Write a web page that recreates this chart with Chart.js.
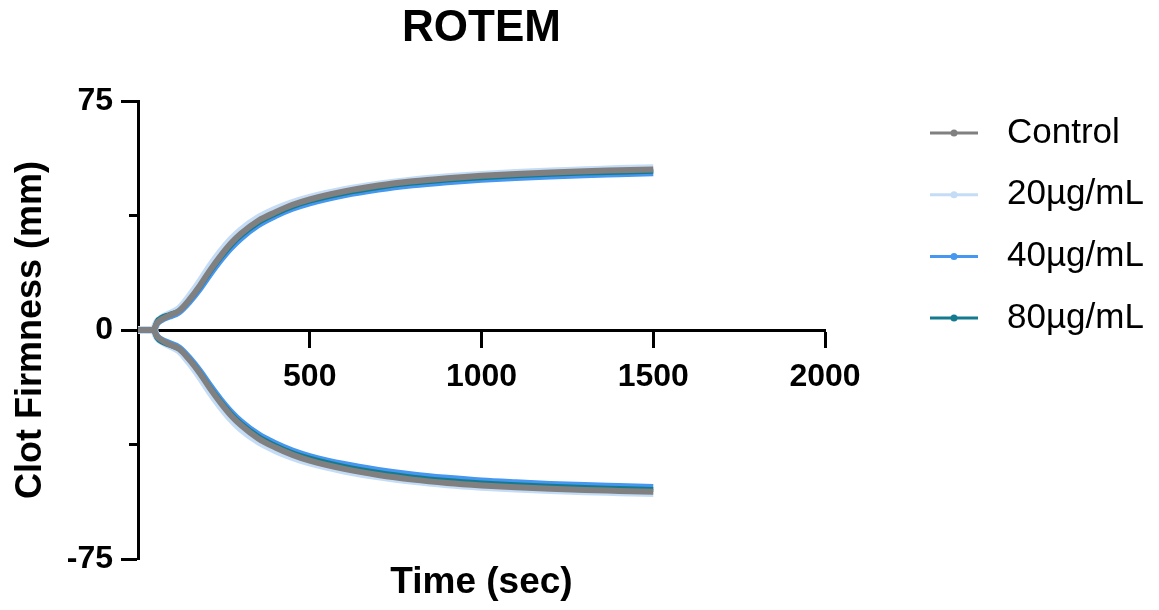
<!DOCTYPE html>
<html>
<head>
<meta charset="utf-8">
<script src="https://cdn.jsdelivr.net/npm/chart.js@4.4.1/dist/chart.umd.min.js"></script>
<style>
  html, body { margin: 0; padding: 0; background: #ffffff; }
  #wrap { width: 1159px; height: 610px; }
</style>
</head>
<body>
<div id="wrap"><canvas id="rotem" width="1159" height="610"></canvas></div>
<script>
// Sampling times (s)
const timeSec = [0, 30, 45, 55, 70, 90, 120, 150, 180, 210, 240, 270, 300, 350, 400, 450, 500, 600, 700, 800, 900, 1000, 1100, 1200, 1300, 1400, 1500];

// Clot firmness (mm), upper trace of each curve
const controlUpper = [0, 0, 0, 2.2, 3.6, 4.7, 6.3, 10.0, 14.5, 19.6, 24.2, 28.3, 31.6, 35.8, 38.6, 41.0, 42.8, 45.4, 47.3, 48.7, 49.7, 50.5, 51.1, 51.6, 52.0, 52.3, 52.6];
const dose20Upper  = [0, 0, 0, 2.4, 3.9, 5.1, 6.9, 10.9, 15.6, 20.8, 25.4, 29.4, 32.6, 36.6, 39.4, 41.6, 43.3, 45.8, 47.6, 49.0, 50.0, 50.8, 51.4, 51.9, 52.3, 52.7, 53.0];
const dose40Upper  = [0, 0, 0, 2.0, 3.3, 4.3, 5.8, 9.2, 13.4, 18.2, 22.7, 26.7, 30.0, 34.3, 37.3, 39.7, 41.5, 44.1, 46.0, 47.4, 48.4, 49.2, 49.8, 50.3, 50.7, 51.0, 51.3];
const dose80Upper  = [0, 0, 0, 2.8, 4.2, 5.0, 6.4, 9.8, 14.1, 19.1, 23.6, 27.6, 30.9, 35.1, 38.0, 40.4, 42.2, 44.8, 46.7, 48.1, 49.1, 49.9, 50.5, 51.0, 51.4, 51.7, 52.0];

// Clot firmness (mm), lower (mirrored) trace of each curve
const controlLower = [0, 0, 0, -2.0, -3.4, -4.6, -6.2, -9.8, -14.2, -19.2, -23.8, -27.9, -31.2, -35.5, -38.5, -40.9, -42.8, -45.5, -47.5, -49.0, -50.1, -50.9, -51.5, -52.0, -52.4, -52.7, -53.0];
const dose20Lower  = [0, 0, 0, -2.2, -3.7, -4.9, -6.7, -10.6, -15.2, -20.3, -24.9, -29.0, -32.3, -36.4, -39.3, -41.6, -43.4, -46.0, -47.9, -49.4, -50.5, -51.3, -51.9, -52.4, -52.8, -53.1, -53.4];
const dose40Lower  = [0, 0, 0, -1.9, -3.2, -4.2, -5.7, -9.1, -13.3, -18.1, -22.6, -26.6, -29.9, -34.1, -37.1, -39.5, -41.3, -43.9, -45.8, -47.3, -48.4, -49.3, -49.9, -50.4, -50.8, -51.1, -51.4];
const dose80Lower  = [0, 0, 0, -2.6, -4.0, -4.9, -6.3, -9.6, -13.9, -18.8, -23.3, -27.3, -30.6, -34.8, -37.8, -40.2, -42.0, -44.7, -46.7, -48.2, -49.3, -50.1, -50.7, -51.2, -51.6, -51.9, -52.2];

// Series names and axis tick values
const seriesNames = ['Control', '20µg/mL', '40µg/mL', '80µg/mL'];
const xTickValues = [500, 1000, 1500, 2000];
const yTickValues = [-75, 0, 75];

// Styling per series
const seriesColors = ['#808080', '#c4dcf6', '#4597ef', '#147b8f'];
const seriesWidths = [6, 8, 6, 5];
const seriesOrder  = [0, 3, 2, 1];

const FONT = "'Liberation Sans', Arial, sans-serif";
Chart.defaults.font.family = FONT;
Chart.defaults.color = '#000000';

const uppers = [controlUpper, dose20Upper, dose40Upper, dose80Upper];
const lowers = [controlLower, dose20Lower, dose40Lower, dose80Lower];

const toPoints = vals => timeSec.map((t, i) => ({ x: t, y: vals[i] }));

const datasets = [];
seriesNames.forEach((name, i) => {
  [uppers[i], lowers[i]].forEach(vals => {
    datasets.push({
      label: name,
      data: toPoints(vals),
      borderColor: seriesColors[i],
      backgroundColor: seriesColors[i],
      borderWidth: seriesWidths[i],
      pointRadius: 0,
      pointHoverRadius: 0,
      cubicInterpolationMode: 'monotone',
      borderJoinStyle: 'round',
      fill: false,
      order: seriesOrder[i]
    });
  });
});

// Key drawn to the right of the plot: short line with a centre dot, then the name
const sideKey = {
  id: 'sideKey',
  afterDraw(chart) {
    const { ctx, chartArea } = chart;
    const x0 = chartArea.right + 105;
    const y0 = chartArea.top + 32;
    const gap = 61.7;
    seriesNames.forEach((name, i) => {
      const y = y0 + i * gap;
      ctx.save();
      ctx.strokeStyle = seriesColors[i];
      ctx.lineWidth = 3;
      ctx.beginPath();
      ctx.moveTo(x0, y);
      ctx.lineTo(x0 + 48, y);
      ctx.stroke();
      ctx.fillStyle = seriesColors[i];
      ctx.beginPath();
      ctx.arc(x0 + 24, y, 3.5, 0, Math.PI * 2);
      ctx.fill();
      ctx.fillStyle = '#000000';
      ctx.font = '35px ' + FONT;
      ctx.textBaseline = 'middle';
      ctx.textAlign = 'left';
      ctx.fillText(name, x0 + 77, y);
      ctx.restore();
    });
  }
};

new Chart(document.getElementById('rotem'), {
  type: 'line',
  data: { datasets },
  options: {
    responsive: false,
    animation: false,
    layout: { padding: { left: 0, right: 334, top: 0, bottom: 0 } },
    plugins: {
      legend: { display: false },
      tooltip: { enabled: false },
      title: {
        display: true,
        text: 'ROTEM',
        fullSize: false,
        color: '#000000',
        font: { size: 44, weight: 'bold' },
        padding: { top: 2, bottom: 46.2 }
      }
    },
    scales: {
      x: {
        type: 'linear',
        position: { y: 0 },
        min: 0,
        max: 2000,
        afterBuildTicks: s => { s.ticks = [0].concat(xTickValues).map(v => ({ value: v })); },
        ticks: {
          callback: v => (xTickValues.includes(v) ? String(v) : ''),
          font: { size: 32, weight: 'bold' },
          color: '#000000',
          padding: 12,
          maxRotation: 0,
          autoSkip: false
        },
        grid: {
          display: true,
          drawOnChartArea: false,
          drawTicks: true,
          tickLength: 16,
          tickWidth: 3,
          tickColor: '#000000'
        },
        border: { display: true, color: '#000000', width: 3 }
      },
      xTitle: {
        type: 'linear',
        axis: 'x',
        position: 'bottom',
        min: 0,
        max: 2000,
        afterFit: s => { s.height = 51; },
        ticks: { display: false },
        grid: { display: false },
        border: { display: false },
        title: {
          display: true,
          text: 'Time (sec)',
          color: '#000000',
          font: { size: 37, weight: 'bold' },
          padding: { top: 0, bottom: 5 }
        }
      },
      y: {
        type: 'linear',
        position: 'left',
        min: -75,
        max: 75,
        afterFit: s => { s.width = 138; },
        afterBuildTicks: s => { s.ticks = yTickValues.map(v => ({ value: v })); },
        ticks: {
          font: { size: 32, weight: 'bold' },
          color: '#000000',
          padding: 8
        },
        grid: {
          display: true,
          drawOnChartArea: false,
          drawTicks: true,
          tickLength: 17,
          tickWidth: 3,
          tickColor: '#000000'
        },
        border: { display: true, color: '#000000', width: 3 },
        title: {
          display: true,
          text: 'Clot Firmness (mm)',
          color: '#000000',
          font: { size: 36, weight: 'bold' },
          padding: { top: 9, bottom: 0 }
        }
      },
      yMinor: {
        type: 'linear',
        axis: 'y',
        position: { x: 0 },
        min: -75,
        max: 75,
        afterBuildTicks: s => { s.ticks = [-37.5, 37.5].map(v => ({ value: v })); },
        ticks: { display: false },
        grid: {
          display: true,
          drawOnChartArea: false,
          drawTicks: true,
          tickLength: 9,
          tickWidth: 3,
          tickColor: '#000000'
        },
        border: { display: false }
      }
    }
  },
  plugins: [sideKey]
});
</script>
</body>
</html>
